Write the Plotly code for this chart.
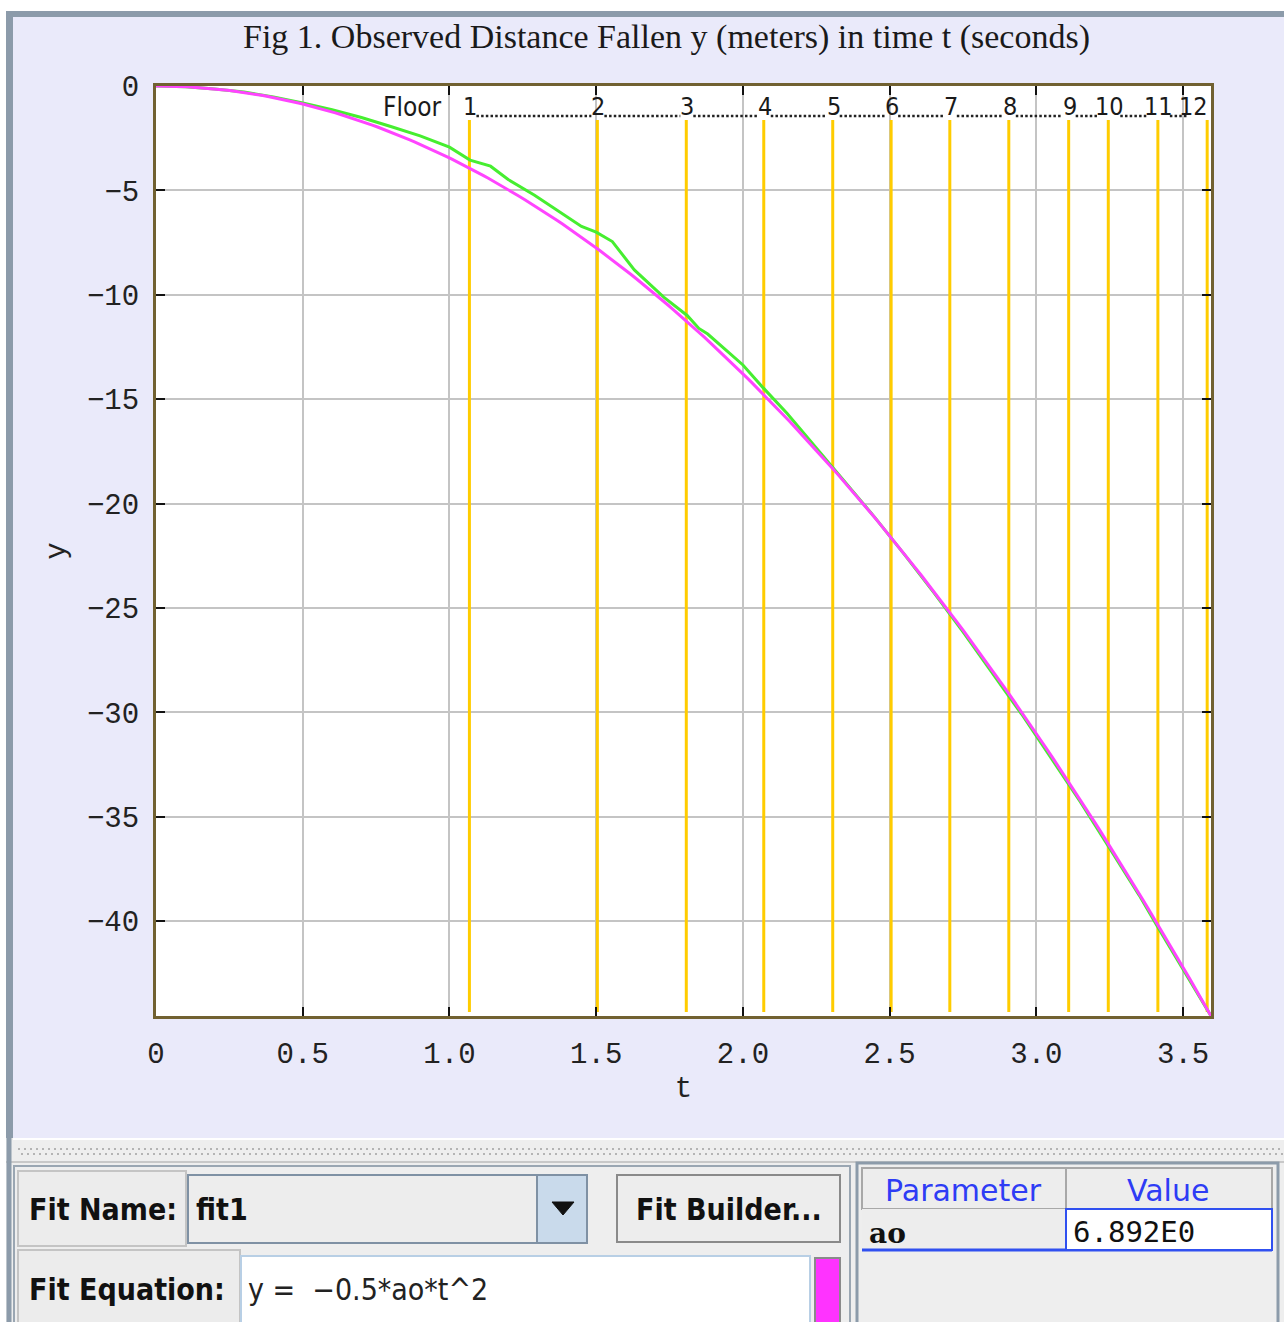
import plotly.graph_objects as go

# ---------------- data ----------------
AO = 6.892  # fitted parameter of y = -0.5*ao*t^2

T_OBS = [0.00, 0.10, 0.20, 0.30, 0.40, 0.50, 0.60, 0.70, 0.80, 0.90,
         1.00, 1.07, 1.14, 1.20, 1.29, 1.37, 1.45, 1.50, 1.555, 1.63,
         1.73, 1.81, 1.85, 1.88, 1.95, 2.00, 2.07, 2.15, 2.25, 2.35,
         2.45, 2.55, 2.65, 2.75, 2.85, 2.95, 3.05, 3.15, 3.25, 3.35,
         3.42, 3.50, 3.595]
Y_OBS = [0.00, -0.03, -0.14, -0.29, -0.52, -0.81, -1.14, -1.51, -1.94, -2.39,
         -2.93, -3.55, -3.84, -4.48, -5.23, -5.97, -6.73, -7.00, -7.45, -8.81,
         -10.11, -10.99, -11.61, -11.88, -12.72, -13.36, -14.47, -15.67, -17.33, -18.98,
         -20.67, -22.43, -24.25, -26.14, -28.09, -30.09, -32.18, -34.29, -36.52, -38.75,
         -40.43, -42.31, -44.54]

FLOOR_T = [1.068, 1.504, 1.807, 2.071, 2.306, 2.505, 2.705, 2.906, 3.110, 3.245, 3.414, 3.582]
FLOOR_LABELS = ["1", "2", "3", "4", "5", "6", "7", "8", "9", "10", "11", "12"]

X_TICKS = [0, 0.5, 1.0, 1.5, 2.0, 2.5, 3.0, 3.5]
X_TICK_TEXT = ["0", "0.5", "1.0", "1.5", "2.0", "2.5", "3.0", "3.5"]
Y_TICKS = [0, -5, -10, -15, -20, -25, -30, -35, -40]
Y_TICK_TEXT = ["0", "\u22125", "\u221210", "\u221215", "\u221220", "\u221225", "\u221230", "\u221235", "\u221240"]

TITLE = "Fig 1. Observed Distance Fallen y (meters) in time t (seconds)"
FIT_NAME = "fit1"
FIT_EQUATION = "y =  \u22120.5*ao*t^2"
PARAM_NAME = "ao"
PARAM_VALUE = "6.892E0"

# ---------------- page geometry (pixels) ----------------
W, H = 1284, 1322
PLOT_L, PLOT_R, PLOT_T, PLOT_B = 156, 1211, 86, 1016


def fx(px):
    return px / W


def fy(py):
    return 1 - py / H


LAVENDER = "#EAEAFA"
FRAME = "#8C9BAA"
PANEL = "#EEEEEE"
GREEN = "#46EE30"
MAGENTA = "#FF44FF"
YELLOW = "#FFCC00"
BORDER = "#716131"
MONO = "Liberation Mono, DejaVu Sans Mono, monospace"
NARROW = "Liberation Sans Narrow, DejaVu Sans Condensed, Roboto, sans-serif"
UI = "DejaVu Sans Condensed, DejaVu Sans, sans-serif"

Y_MIN = Y_OBS[-1]


def y_at_px(py):
    """value on the y axis that sits at page row py inside the plot"""
    return Y_MIN * (py - PLOT_T) / (PLOT_B - PLOT_T)


# fitted curve from the parameter value
t_fit = [i * T_OBS[-1] / 200 for i in range(201)]
y_fit = [-0.5 * AO * t * t for t in t_fit]

# vertical floor markers, drawn as one broken line trace
floor_x, floor_y = [], []
for t in FLOOR_T:
    floor_x += [t, t, None]
    floor_y += [y_at_px(120), y_at_px(1012), None]

fig = go.Figure()
fig.add_trace(go.Scatter(x=floor_x, y=floor_y, mode="lines", hoverinfo="skip",
                         line=dict(color=YELLOW, width=3), showlegend=False))
fig.add_trace(go.Scatter(x=T_OBS, y=Y_OBS, mode="lines",
                         line=dict(color=GREEN, width=3), showlegend=False))
fig.add_trace(go.Scatter(x=t_fit, y=y_fit, mode="lines",
                         line=dict(color=MAGENTA, width=3), showlegend=False))

shapes = []
annotations = []


def rect(x0, y0, x1, y1, fill, line=None, lw=0, layer="below"):
    shapes.append(dict(type="rect", xref="paper", yref="paper",
                       x0=fx(x0), x1=fx(x1), y0=fy(y1), y1=fy(y0),
                       fillcolor=fill, layer=layer,
                       line=dict(color=line or fill, width=lw)))


def hline(x0, x1, y, color, lw=1, dash="solid", layer="below"):
    shapes.append(dict(type="line", xref="paper", yref="paper",
                       x0=fx(x0), x1=fx(x1), y0=fy(y), y1=fy(y), layer=layer,
                       line=dict(color=color, width=lw, dash=dash)))


def vline(x, y0, y1, color, lw=1, layer="below"):
    shapes.append(dict(type="line", xref="paper", yref="paper",
                       x0=fx(x), x1=fx(x), y0=fy(y0), y1=fy(y1), layer=layer,
                       line=dict(color=color, width=lw)))


def text(x, y, s, size, color="#111111", family=UI, xanchor="left"):
    annotations.append(dict(xref="paper", yref="paper", x=fx(x), y=fy(y),
                            text=s, showarrow=False, xanchor=xanchor,
                            yanchor="middle",
                            font=dict(family=family, size=size, color=color)))


# ---- chart panel background ----
rect(6, 11, W + 2, 1140, FRAME)
rect(13, 17, W + 2, 1138, LAVENDER)
rect(PLOT_L, PLOT_T, PLOT_R, PLOT_B, "#FFFFFF")

# ---- split-pane divider ----
rect(6, 1138, W + 2, 1163, PANEL)
hline(13, W, 1139, "#FFFFFF", 2)
hline(18, W, 1149, "#B4B4B4", 2, dash="2px,4px")
hline(21, W, 1154, "#B4B4B4", 2, dash="2px,4px")
hline(6, W, 1162, "#C8C8C8", 2)

# ---- control panel ----
rect(6, 1163, W + 2, H + 2, PANEL)
vline(9, 1138, H, FRAME, 5)
rect(14, 1166, 850, H + 4, PANEL, "#9AA6B2", 2)
rect(18, 1171, 186, 1246, "#ECECEC", "#C4C4C4", 2)
rect(188, 1175, 537, 1243, "#EDEDED", "#7F91A4", 2)
rect(537, 1175, 587, 1243, "#C9DAEB", "#7F91A4", 2)
shapes.append(dict(type="path", xref="paper", yref="paper", layer="below",
                   path="M {},{} L {},{} L {},{} Z".format(
                       fx(552), fy(1202), fx(574), fy(1202), fx(563), fy(1215)),
                   fillcolor="#111111", line=dict(color="#111111", width=1)))
rect(617, 1175, 840, 1242, "#EDEDED", "#8A8A8A", 2)
rect(18, 1250, 240, H + 4, "#ECECEC", "#C4C4C4", 2)
rect(241, 1256, 810, H + 4, "#FFFFFF", "#B8CFE5", 2)
rect(815, 1258, 840, H + 4, "#FF33FF", "#8A8A8A", 2)

text(27, 1209, "<b>Fit Name:</b>", 30)
text(194, 1209, "<b>" + FIT_NAME + "</b>", 30)
text(729, 1209, "<b>Fit Builder...</b>", 30, xanchor="center")
text(27, 1289, "<b>Fit Equation:</b>", 30)
text(246, 1289, FIT_EQUATION, 30, color="#222222")

# parameter table
rect(857, 1163, 1278, H + 4, PANEL, FRAME, 3)
rect(862, 1168, 1066, 1209, "#EDEDED", "#A8A8A8", 2)
rect(1066, 1168, 1272, 1209, "#EDEDED", "#A8A8A8", 2)
rect(862, 1209, 1066, 1250, "#EDEDED", "#EDEDED", 0)
hline(862, 1272, 1250, "#3050F0", 3)
rect(1066, 1209, 1272, 1250, "#FFFFFF", "#3050F0", 2)
text(963, 1190, "Parameter", 30, color="#2E3CF5", family="DejaVu Sans, sans-serif", xanchor="center")
text(1168, 1190, "Value", 30, color="#2E3CF5", family="DejaVu Sans, sans-serif", xanchor="center")
text(867, 1233, "<b>" + PARAM_NAME + "</b>", 28, family="DejaVu Serif, serif")
text(1071, 1232, PARAM_VALUE, 29, color="#111111", family="DejaVu Sans Mono, monospace")

# ---- title ----
text(666, 37, TITLE, 34, color="#1A1A1A", family="Liberation Serif, Times New Roman, serif",
     xanchor="center")

# ---- floor labels with dotted leaders ----
px_per_t = (PLOT_R - PLOT_L) / T_OBS[-1]
label_y = (PLOT_B - 107) / (PLOT_B - PLOT_T)
dots_y = (PLOT_B - 116) / (PLOT_B - PLOT_T)
annotations.append(dict(xref="x", yref="y domain", x=FLOOR_T[0], xshift=-25,
                        y=label_y, text="Floor", showarrow=False,
                        xanchor="right", yanchor="middle",
                        font=dict(family=NARROW, size=26, color="#1A1A1A")))
half_w = []
for i, (t, lab) in enumerate(zip(FLOOR_T, FLOOR_LABELS)):
    last = i == len(FLOOR_T) - 1
    hw = 5 if len(lab) == 1 else 10
    half_w.append(hw)
    annotations.append(dict(xref="x", yref="y domain", x=t, y=label_y,
                            text=lab, showarrow=False,
                            xanchor="right" if last else "center",
                            xshift=3 if last else 1, yanchor="middle",
                            font=dict(family=NARROW, size=25, color="#1A1A1A")))
for i in range(len(FLOOR_T) - 1):
    a = FLOOR_T[i] + (half_w[i] + 2) / px_per_t
    b_off = (2 * half_w[i + 1] + 0) if i + 1 == len(FLOOR_T) - 1 else (half_w[i + 1] + 1)
    b = FLOOR_T[i + 1] - b_off / px_per_t
    shapes.append(dict(type="line", xref="x", yref="y domain", x0=a, x1=b,
                       y0=dots_y, y1=dots_y, layer="above",
                       line=dict(color="#222222", width=2.5, dash="2.5px,2.2px")))

fig.update_layout(
    width=W, height=H,
    margin=dict(l=0, r=0, t=0, b=0, pad=0),
    paper_bgcolor="#FFFFFF",
    plot_bgcolor="#FFFFFF",
    showlegend=False,
    shapes=shapes,
    annotations=annotations,
    xaxis=dict(
        domain=[fx(PLOT_L), fx(PLOT_R)],
        range=[0, T_OBS[-1]],
        tickvals=X_TICKS, ticktext=X_TICK_TEXT,
        showgrid=True, gridcolor="#C4C4C4", gridwidth=2,
        zeroline=False,
        showline=True, linecolor=BORDER, linewidth=3, mirror="ticks",
        ticks="inside", ticklen=9, tickwidth=2, tickcolor="#111111",
        ticklabelstandoff=9,
        tickfont=dict(family=MONO, size=29, color="#222222"),
        title=dict(text="t", standoff=6,
                   font=dict(family=MONO, size=29, color="#222222")),
        automargin=False, fixedrange=True,
    ),
    yaxis=dict(
        domain=[fy(PLOT_B), fy(PLOT_T)],
        range=[Y_MIN, 0],
        tickvals=Y_TICKS, ticktext=Y_TICK_TEXT,
        showgrid=True, gridcolor="#C4C4C4", gridwidth=2,
        zeroline=False,
        showline=True, linecolor=BORDER, linewidth=3, mirror="ticks",
        ticks="inside", ticklen=9, tickwidth=2, tickcolor="#111111",
        ticklabelstandoff=8,
        tickfont=dict(family=MONO, size=29, color="#222222"),
        title=dict(text="y", standoff=13,
                   font=dict(family=MONO, size=29, color="#222222")),
        automargin=False, fixedrange=True,
    ),
)

fig.write_html("out.html",
               config={"displayModeBar": False},
               post_script="document.body.style.margin='0';document.body.style.padding='0';")
